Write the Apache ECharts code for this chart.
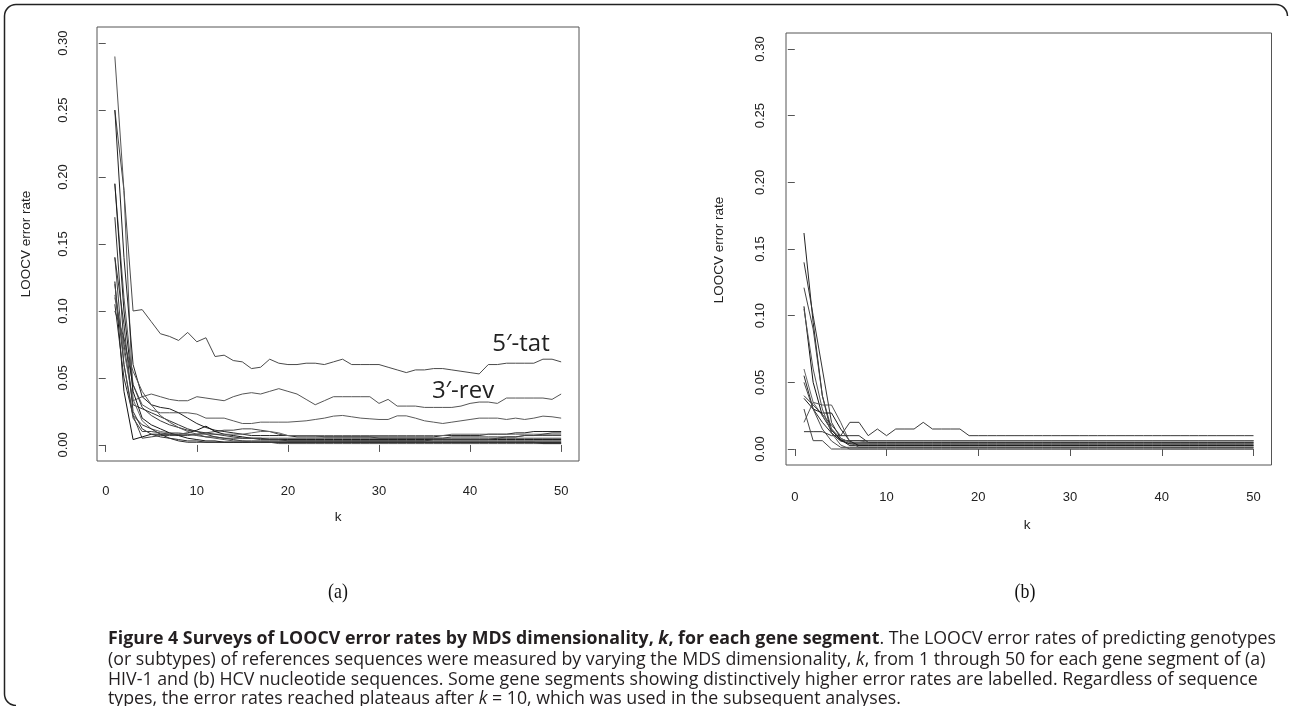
<!DOCTYPE html>
<html><head><meta charset="utf-8">
<script src="https://cdn.jsdelivr.net/npm/echarts@6/dist/echarts.min.js"></script>
<style>html,body{margin:0;padding:0;background:#fff}#c{width:1290px;height:706px}</style>
</head><body><div id="c"></div>
<script>
// ---- data ----
const kValues = [1,2,3,4,5,6,7,8,9,10,11,12,13,14,15,16,17,18,19,20,21,22,23,24,25,26,27,28,29,30,31,32,33,34,35,36,37,38,39,40,41,42,43,44,45,46,47,48,49,50];
const xTicks = [0,10,20,30,40,50];
const yTicks = [0,0.05,0.10,0.15,0.20,0.25,0.30];

// (a) HIV-1 gene segments
const hiv_tat5 = [0.250,0.190,0.100,0.101,0.092,0.083,0.081,0.078,0.084,0.077,
 0.080,0.066,0.067,0.063,0.062,0.057,0.058,0.064,0.061,0.060,
 0.060,0.061,0.061,0.060,0.062,0.064,0.060,0.060,0.060,0.060,
 0.058,0.056,0.054,0.056,0.056,0.057,0.057,0.056,0.055,0.054,
 0.053,0.060,0.060,0.061,0.061,0.061,0.061,0.064,0.064,0.062];
const hiv_rev3 = [0.290,0.190,0.033,0.036,0.038,0.036,0.034,0.033,0.033,0.036,
 0.035,0.034,0.033,0.036,0.038,0.039,0.038,0.040,0.042,0.040,
 0.038,0.034,0.030,0.033,0.036,0.036,0.036,0.036,0.036,0.031,
 0.034,0.029,0.029,0.029,0.028,0.028,0.028,0.028,0.029,0.031,
 0.032,0.032,0.031,0.035,0.035,0.035,0.035,0.035,0.034,0.038];
const hiv_s3 = [0.195,0.110,0.045,0.030,0.026,0.024,0.024,0.024,0.024,0.023,
 0.020,0.020,0.020,0.018,0.016,0.016,0.017,0.017,0.017,0.017,
 0.0175,0.018,0.019,0.020,0.0215,0.022,0.021,0.020,0.0195,0.019,
 0.019,0.0217,0.0217,0.020,0.018,0.017,0.016,0.017,0.018,0.019,
 0.020,0.020,0.020,0.019,0.020,0.019,0.020,0.0215,0.021,0.020];
const hiv_s4 = [0.250,0.140,0.060,0.036,0.030,0.028,0.027,0.024,0.020,0.016,
 0.013,0.011,0.010,0.009,0.008,0.007,0.007,0.007,0.007,0.007,
 0.006,0.006,0.006,0.006,0.006,0.006,0.006,0.006,0.006,0.006,
 0.006,0.006,0.006,0.006,0.006,0.006,0.007,0.007,0.007,0.007,
 0.007,0.008,0.008,0.008,0.009,0.009,0.010,0.010,0.010,0.010];
const hiv_s5 = [0.170,0.075,0.030,0.027,0.024,0.021,0.018,0.015,0.012,0.010,
 0.008,0.006,0.005,0.004,0.003,0.003,0.003,0.003,0.003,0.003,
 0.003,0.003,0.003,0.003,0.003,0.003,0.003,0.003,0.003,0.003,
 0.003,0.003,0.003,0.003,0.003,0.003,0.003,0.003,0.003,0.003,
 0.003,0.003,0.003,0.003,0.003,0.003,0.003,0.003,0.003,0.003];
const hiv_s6 = [0.140,0.060,0.022,0.005,0.006,0.007,0.007,0.007,0.007,0.008,
 0.009,0.010,0.011,0.011,0.012,0.012,0.011,0.010,0.008,0.007,
 0.007,0.007,0.007,0.006,0.006,0.006,0.006,0.006,0.006,0.005,
 0.005,0.005,0.005,0.005,0.005,0.005,0.005,0.006,0.006,0.006,
 0.006,0.006,0.006,0.006,0.006,0.007,0.007,0.007,0.007,0.007];
const hiv_s7 = [0.122,0.040,0.004,0.006,0.008,0.008,0.008,0.008,0.009,0.011,
 0.014,0.010,0.008,0.007,0.006,0.005,0.005,0.004,0.004,0.004,
 0.004,0.004,0.004,0.004,0.004,0.004,0.004,0.004,0.004,0.004,
 0.004,0.004,0.004,0.004,0.004,0.004,0.004,0.004,0.004,0.004,
 0.004,0.004,0.004,0.004,0.004,0.004,0.004,0.004,0.004,0.004];
const hiv_s8 = [0.112,0.070,0.034,0.018,0.012,0.010,0.009,0.009,0.008,0.008,
 0.008,0.008,0.008,0.008,0.008,0.009,0.010,0.010,0.009,0.007,
 0.007,0.007,0.007,0.007,0.007,0.007,0.007,0.007,0.007,0.007,
 0.007,0.007,0.007,0.007,0.007,0.007,0.007,0.008,0.008,0.008,
 0.008,0.008,0.008,0.008,0.008,0.008,0.008,0.008,0.008,0.008];
const hiv_s9 = [0.105,0.050,0.022,0.015,0.012,0.008,0.005,0.003,0.002,0.002,
 0.002,0.002,0.002,0.002,0.002,0.002,0.002,0.002,0.002,0.002,
 0.002,0.002,0.002,0.002,0.002,0.002,0.002,0.002,0.002,0.002,
 0.002,0.002,0.002,0.002,0.002,0.002,0.002,0.002,0.002,0.002,
 0.002,0.002,0.002,0.002,0.002,0.002,0.002,0.002,0.002,0.002];
const hiv_s10 = [0.100,0.080,0.045,0.028,0.022,0.018,0.015,0.013,0.011,0.010,
 0.009,0.008,0.007,0.006,0.005,0.005,0.004,0.004,0.004,0.003,
 0.003,0.003,0.003,0.003,0.003,0.003,0.003,0.003,0.003,0.003,
 0.003,0.003,0.003,0.003,0.003,0.004,0.004,0.004,0.004,0.004,
 0.004,0.004,0.005,0.005,0.005,0.005,0.005,0.005,0.005,0.005];
const hiv_s11 = [0.195,0.100,0.040,0.020,0.015,0.012,0.009,0.007,0.005,0.004,
 0.003,0.003,0.002,0.002,0.002,0.002,0.002,0.002,0.002,0.002,
 0.002,0.002,0.002,0.002,0.002,0.002,0.002,0.002,0.002,0.002,
 0.002,0.002,0.002,0.002,0.002,0.002,0.002,0.002,0.002,0.002,
 0.002,0.002,0.002,0.002,0.002,0.002,0.002,0.002,0.002,0.002];
const hiv_s12 = [0.110,0.075,0.055,0.040,0.030,0.022,0.017,0.013,0.010,0.008,
 0.006,0.005,0.004,0.003,0.003,0.002,0.002,0.002,0.001,0.001,
 0.001,0.001,0.001,0.001,0.001,0.001,0.001,0.001,0.001,0.001,
 0.001,0.001,0.001,0.001,0.001,0.001,0.001,0.001,0.001,0.001,
 0.001,0.001,0.001,0.001,0.001,0.001,0.001,0.001,0.001,0.001];
const hiv_s13 = [0.140,0.090,0.025,0.012,0.008,0.006,0.005,0.004,0.003,0.003,
 0.002,0.002,0.002,0.002,0.002,0.002,0.002,0.002,0.002,0.002,
 0.002,0.002,0.002,0.002,0.002,0.002,0.002,0.002,0.002,0.002,
 0.002,0.002,0.002,0.002,0.002,0.002,0.002,0.002,0.002,0.002,
 0.002,0.002,0.002,0.002,0.002,0.002,0.002,0.001,0.001,0.001];
const hiv_s14 = [0.120,0.060,0.020,0.010,0.010,0.009,0.008,0.008,0.008,0.007,
 0.006,0.006,0.005,0.005,0.005,0.005,0.005,0.005,0.005,0.005,
 0.005,0.005,0.005,0.005,0.005,0.005,0.005,0.005,0.005,0.005,
 0.005,0.005,0.005,0.005,0.005,0.005,0.005,0.005,0.005,0.005,
 0.005,0.005,0.005,0.006,0.006,0.007,0.007,0.008,0.009,0.009];

// (b) HCV gene segments
const hcv_s1 = [0.162,0.095,0.040,0.012,0.00625,0.00625,0.00625,0.00625,0.00625,0.00625,
 0.00625,0.00625,0.00625,0.00625,0.00625,0.00625,0.00625,0.00625,0.00625,0.00625,
 0.00625,0.00625,0.00625,0.00625,0.00625,0.00625,0.00625,0.00625,0.00625,0.00625,
 0.00625,0.00625,0.00625,0.00625,0.00625,0.00625,0.00625,0.00625,0.00625,0.00625,
 0.00625,0.00625,0.00625,0.00625,0.00625,0.00625,0.00625,0.00625,0.00625,0.00625];
const hcv_s2 = [0.140,0.100,0.060,0.020,0.008,0.005,0.005,0.005,0.005,0.005,
 0.005,0.005,0.005,0.005,0.005,0.005,0.005,0.005,0.005,0.005,
 0.005,0.005,0.005,0.005,0.005,0.005,0.005,0.005,0.005,0.005,
 0.005,0.005,0.005,0.005,0.005,0.005,0.005,0.005,0.005,0.005,
 0.005,0.005,0.005,0.005,0.005,0.005,0.005,0.005,0.005,0.005];
const hcv_s3 = [0.121,0.090,0.040,0.015,0.007,0.00375,0.00375,0.00375,0.00375,0.00375,
 0.00375,0.00375,0.00375,0.00375,0.00375,0.00375,0.00375,0.00375,0.00375,0.00375,
 0.00375,0.00375,0.00375,0.00375,0.00375,0.00375,0.00375,0.00375,0.00375,0.00375,
 0.00375,0.00375,0.00375,0.00375,0.00375,0.00375,0.00375,0.00375,0.00375,0.00375,
 0.00375,0.00375,0.00375,0.00375,0.00375,0.00375,0.00375,0.00375,0.00375,0.00375];
const hcv_s4 = [0.107,0.050,0.025,0.014,0.007,0.0025,0.0025,0.0025,0.0025,0.0025,
 0.0025,0.0025,0.0025,0.0025,0.0025,0.0025,0.0025,0.0025,0.0025,0.0025,
 0.0025,0.0025,0.0025,0.0025,0.0025,0.0025,0.0025,0.0025,0.0025,0.0025,
 0.0025,0.0025,0.0025,0.0025,0.0025,0.0025,0.0025,0.0025,0.0025,0.0025,
 0.0025,0.0025,0.0025,0.0025,0.0025,0.0025,0.0025,0.0025,0.0025,0.0025];
const hcv_s5 = [0.060,0.035,0.025,0.015,0.008,0.005,0.005,0.00625,0.00625,0.00625,
 0.00625,0.00625,0.00625,0.00625,0.00625,0.00625,0.00625,0.00625,0.00625,0.00625,
 0.00625,0.00625,0.00625,0.00625,0.00625,0.00625,0.00625,0.00625,0.00625,0.00625,
 0.00625,0.00625,0.00625,0.00625,0.00625,0.00625,0.00625,0.00625,0.00625,0.00625,
 0.00625,0.00625,0.00625,0.00625,0.00625,0.00625,0.00625,0.00625,0.00625,0.00625];
const hcv_s6 = [0.055,0.030,0.020,0.012,0.006,0.004,0.00375,0.00375,0.00375,0.00375,
 0.00375,0.00375,0.00375,0.00375,0.00375,0.00375,0.00375,0.00375,0.00375,0.00375,
 0.00375,0.00375,0.00375,0.00375,0.00375,0.00375,0.00375,0.00375,0.00375,0.00375,
 0.00375,0.00375,0.00375,0.00375,0.00375,0.00375,0.00375,0.00375,0.00375,0.00375,
 0.00375,0.00375,0.00375,0.00375,0.00375,0.00375,0.00375,0.00375,0.00375,0.00375];
const hcv_s7 = [0.040,0.033,0.026,0.018,0.010,0.020,0.020,0.010,0.015,0.010,
 0.015,0.015,0.015,0.020,0.015,0.015,0.015,0.015,0.010,0.010,
 0.010,0.010,0.010,0.010,0.010,0.010,0.010,0.010,0.010,0.010,
 0.010,0.010,0.010,0.010,0.010,0.010,0.010,0.010,0.010,0.010,
 0.010,0.010,0.010,0.010,0.010,0.010,0.010,0.010,0.010,0.010];
const hcv_s8 = [0.038,0.030,0.027,0.027,0.015,0.006,0.0025,0.0025,0.0025,0.0025,
 0.0025,0.0025,0.0025,0.0025,0.0025,0.0025,0.0025,0.0025,0.0025,0.0025,
 0.0025,0.0025,0.0025,0.0025,0.0025,0.0025,0.0025,0.0025,0.0025,0.0025,
 0.0025,0.0025,0.0025,0.0025,0.0025,0.0025,0.0025,0.0025,0.0025,0.0025,
 0.0025,0.0025,0.0025,0.0025,0.0025,0.0025,0.0025,0.0025,0.0025,0.0025];
const hcv_s9 = [0.020,0.035,0.033,0.033,0.020,0.005,0.00125,0.00125,0.00125,0.00125,
 0.00125,0.00125,0.00125,0.00125,0.00125,0.00125,0.00125,0.00125,0.00125,0.00125,
 0.00125,0.00125,0.00125,0.00125,0.00125,0.00125,0.00125,0.00125,0.00125,0.00125,
 0.00125,0.00125,0.00125,0.00125,0.00125,0.00125,0.00125,0.00125,0.00125,0.00125,
 0.00125,0.00125,0.00125,0.00125,0.00125,0.00125,0.00125,0.00125,0.00125,0.00125];
const hcv_s10 = [0.013,0.013,0.013,0.010,0.010,0.010,0.010,0.005,0.005,0.005,
 0.005,0.005,0.005,0.005,0.005,0.005,0.005,0.005,0.005,0.005,
 0.005,0.005,0.005,0.005,0.005,0.005,0.005,0.005,0.005,0.005,
 0.005,0.005,0.005,0.005,0.005,0.005,0.005,0.005,0.005,0.005,
 0.005,0.005,0.005,0.005,0.005,0.005,0.005,0.005,0.005,0.005];
const hcv_s11 = [0.030,0.00625,0.00625,0.000,0.000,0.000,0.000,0.000,0.000,0.000,
 0.000,0.000,0.000,0.000,0.000,0.000,0.000,0.000,0.000,0.000,
 0.000,0.000,0.000,0.000,0.000,0.000,0.000,0.000,0.000,0.000,
 0.000,0.000,0.000,0.000,0.000,0.000,0.000,0.000,0.000,0.000,
 0.000,0.000,0.000,0.000,0.000,0.000,0.000,0.000,0.000,0.000];
const hcv_s12 = [0.050,0.030,0.015,0.006,0.00125,0.00125,0.00125,0.00125,0.00125,0.00125,
 0.00125,0.00125,0.00125,0.00125,0.00125,0.00125,0.00125,0.00125,0.00125,0.00125,
 0.00125,0.00125,0.00125,0.00125,0.00125,0.00125,0.00125,0.00125,0.00125,0.00125,
 0.00125,0.00125,0.00125,0.00125,0.00125,0.00125,0.00125,0.00125,0.00125,0.00125,
 0.00125,0.00125,0.00125,0.00125,0.00125,0.00125,0.00125,0.00125,0.00125,0.00125];
const hcv_s13 = [0.105,0.060,0.030,0.012,0.003,0.000,0.000,0.000,0.000,0.000,
 0.000,0.000,0.000,0.000,0.000,0.000,0.000,0.000,0.000,0.000,
 0.000,0.000,0.000,0.000,0.000,0.000,0.000,0.000,0.000,0.000,
 0.000,0.000,0.000,0.000,0.000,0.000,0.000,0.000,0.000,0.000,
 0.000,0.000,0.000,0.000,0.000,0.000,0.000,0.000,0.000,0.000];

const hivSeries = [hiv_tat5,hiv_rev3,hiv_s3,hiv_s4,hiv_s5,hiv_s6,hiv_s7,hiv_s8,hiv_s9,hiv_s10,hiv_s11,hiv_s12,hiv_s13,hiv_s14];
const hivNames = ["5′-tat","3′-rev","HIV-1 segment 3","HIV-1 segment 4","HIV-1 segment 5","HIV-1 segment 6","HIV-1 segment 7","HIV-1 segment 8","HIV-1 segment 9","HIV-1 segment 10","HIV-1 segment 11","HIV-1 segment 12","HIV-1 segment 13","HIV-1 segment 14"];
const hcvSeries = [hcv_s1,hcv_s2,hcv_s3,hcv_s4,hcv_s5,hcv_s6,hcv_s7,hcv_s8,hcv_s9,hcv_s10,hcv_s11,hcv_s12,hcv_s13];
const hcvNames = ["HCV segment 1","HCV segment 2","HCV segment 3","HCV segment 4","HCV segment 5","HCV segment 6","HCV segment 7","HCV segment 8","HCV segment 9","HCV segment 10","HCV segment 11","HCV segment 12","HCV segment 13"];

const yAxisTitle = "LOOCV error rate";
const xAxisTitle = "k";
const panelLabels = ["(a)","(b)"];
const curveLabels = ["5′-tat","3′-rev"];
const captionBold1 = "Figure 4 Surveys of LOOCV error rates by MDS dimensionality, ";
const captionBold2 = ", for each gene segment";
const captionRest1 = ". The LOOCV error rates of predicting genotypes";
const captionLine2a = "(or subtypes) of references sequences were measured by varying the MDS dimensionality, ";
const captionLine2b = ", from 1 through 50 for each gene segment of (a)";
const captionLine3 = "HIV-1 and (b) HCV nucleotide sequences. Some gene segments showing distinctively higher error rates are labelled. Regardless of sequence";
const captionLine4a = "types, the error rates reached plateaus after ";
const captionLine4b = " = 10, which was used in the subsequent analyses.";

// ---- styling ----
const lineColors = ['#4a4a4a','#555','#5a5a5a','#222','#333','#444','#111','#666','#2a2a2a','#3a3a3a','#1a1a1a','#555','#333','#444'];
const tickFont = {fontFamily:'Liberation Sans, Arial, sans-serif', fontSize:13, color:'#222'};
const capFont = 'Open Sans';
const capSize = 17.5;

function makeAxes(grid, xmin, xmax, xMargin, yMargin){
  return {
    x: {type:'value', gridIndex:grid, min:xmin, max:xmax, splitLine:{show:false},
        axisLine:{show:false},
        axisTick:{show:true, inside:false, length:7, customValues:xTicks, lineStyle:{color:'#555', width:1}},
        axisLabel:Object.assign({customValues:xTicks, margin:xMargin, formatter:v=>String(v)}, tickFont)},
    y: {type:'value', gridIndex:grid, min:-0.012, max:0.312, splitLine:{show:false},
        axisLine:{show:false},
        axisTick:{show:true, inside:false, length:7, customValues:yTicks, lineStyle:{color:'#555', width:1}},
        axisLabel:Object.assign({customValues:yTicks, margin:yMargin, rotate:90, formatter:v=>v.toFixed(2)}, tickFont)}
  };
}
const axA = makeAxes(0, -0.96, 51.96, 24, 27);
const axB = makeAxes(1, -0.96, 51.96, 26, 19);

const series = [];
hivSeries.forEach((arr,i)=>series.push({name:hivNames[i], type:'line', xAxisIndex:0, yAxisIndex:0,
  data:kValues.map((k,j)=>[k,arr[j]]), symbol:'none', lineStyle:{width:1, color:lineColors[i%lineColors.length]}, silent:true}));
hcvSeries.forEach((arr,i)=>series.push({name:hcvNames[i], type:'line', xAxisIndex:1, yAxisIndex:1,
  data:kValues.map((k,j)=>[k,arr[j]]), symbol:'none', lineStyle:{width:1, color:lineColors[(i+3)%lineColors.length]}, silent:true}));

// caption fitting
const mctx = document.createElement('canvas').getContext('2d');
function tw(t, weight, style){ mctx.font = (style||'normal')+' '+(weight||'normal')+' '+capSize+'px "'+capFont+'"'; return mctx.measureText(t).width; }
const line1W = tw(captionBold1,'bold') + tw('k','bold','italic') + tw(captionBold2,'bold') + tw(captionRest1);
const capScale = 1168 / line1W;
const rich = {
  b:{fontFamily:capFont, fontSize:capSize, fontWeight:'bold', fill:'#231f20'},
  bi:{fontFamily:capFont, fontSize:capSize, fontWeight:'bold', fontStyle:'italic', fill:'#231f20'},
  i:{fontFamily:capFont, fontSize:capSize, fontStyle:'italic', fill:'#231f20'},
  n:{fontFamily:capFont, fontSize:capSize, fill:'#231f20'}
};
function capText(y, txt){ return {type:'text', x:0, y:y, style:{text:txt, rich:rich, fontFamily:capFont, fontSize:capSize, fill:'#231f20', textVerticalAlign:'middle'}}; }

const graphic = [
  // figure frame
  {type:'line', shape:{x1:16, y1:4.5, x2:1276, y2:4.5}, style:{stroke:'#222', lineWidth:1.5}},
  {type:'line', shape:{x1:4.5, y1:16, x2:4.5, y2:694}, style:{stroke:'#222', lineWidth:1.5}},
  {type:'arc', shape:{cx:16, cy:16, r:11.5, startAngle:Math.PI, endAngle:Math.PI*1.5}, style:{stroke:'#222', lineWidth:1.5, fill:null}},
  {type:'arc', shape:{cx:16, cy:694, r:11.5, startAngle:Math.PI*0.5, endAngle:Math.PI}, style:{stroke:'#222', lineWidth:1.5, fill:null}},
  {type:'arc', shape:{cx:1276, cy:16, r:11.5, startAngle:Math.PI*1.5, endAngle:Math.PI*2}, style:{stroke:'#222', lineWidth:1.5, fill:null}},
  // axis titles
  {type:'text', x:26, y:244, rotation:Math.PI/2, style:{text:yAxisTitle, fontFamily:'Liberation Sans, Arial', fontSize:13.5, fill:'#222', textAlign:'center', textVerticalAlign:'middle'}},
  {type:'text', x:719, y:250, rotation:Math.PI/2, style:{text:yAxisTitle, fontFamily:'Liberation Sans, Arial', fontSize:13.5, fill:'#222', textAlign:'center', textVerticalAlign:'middle'}},
  {type:'text', x:338, y:517, style:{text:xAxisTitle, fontFamily:'Liberation Sans, Arial', fontSize:13.5, fill:'#222', textAlign:'center', textVerticalAlign:'middle'}},
  {type:'text', x:1027, y:525, style:{text:xAxisTitle, fontFamily:'Liberation Sans, Arial', fontSize:13.5, fill:'#222', textAlign:'center', textVerticalAlign:'middle'}},
  // panel labels
  {type:'text', x:338, y:592, scaleX:0.85, style:{text:panelLabels[0], fontFamily:'Liberation Serif, Times New Roman, serif', fontSize:21, fill:'#111', textAlign:'center', textVerticalAlign:'middle'}},
  {type:'text', x:1025, y:592, scaleX:0.85, style:{text:panelLabels[1], fontFamily:'Liberation Serif, Times New Roman, serif', fontSize:21, fill:'#111', textAlign:'center', textVerticalAlign:'middle'}},
  // curve labels
  {type:'text', x:521, y:344, style:{text:curveLabels[0], fontFamily:'Open Sans', fontSize:24, fill:'#222', textAlign:'center', textVerticalAlign:'middle'}},
  {type:'text', x:463, y:391, style:{text:curveLabels[1], fontFamily:'Open Sans', fontSize:24, fill:'#222', textAlign:'center', textVerticalAlign:'middle'}},
  // caption
  {type:'group', x:108, y:0, scaleX:capScale, children:[
    capText(639, '{b|'+captionBold1+'}{bi|k}{b|'+captionBold2+'}{n|'+captionRest1+'}'),
    capText(660, '{n|'+captionLine2a+'}{i|k}{n|'+captionLine2b+'}'),
    capText(680, '{n|'+captionLine3+'}'),
    capText(699, '{n|'+captionLine4a+'}{i|k}{n|'+captionLine4b+'}')
  ]}
];

const chart = echarts.init(document.getElementById('c'), null, {renderer:'canvas'});
chart.setOption({
  animation:false,
  backgroundColor:'#fff',
  grid:[
    {left:97, top:27, width:482, height:434, show:true, borderColor:'#555', borderWidth:1, backgroundColor:'transparent', containLabel:false},
    {left:786, top:33, width:485.5, height:432, show:true, borderColor:'#555', borderWidth:1, backgroundColor:'transparent', containLabel:false}
  ],
  xAxis:[axA.x, axB.x],
  yAxis:[axA.y, axB.y],
  series:series,
  graphic:graphic
});
</script></body></html>
